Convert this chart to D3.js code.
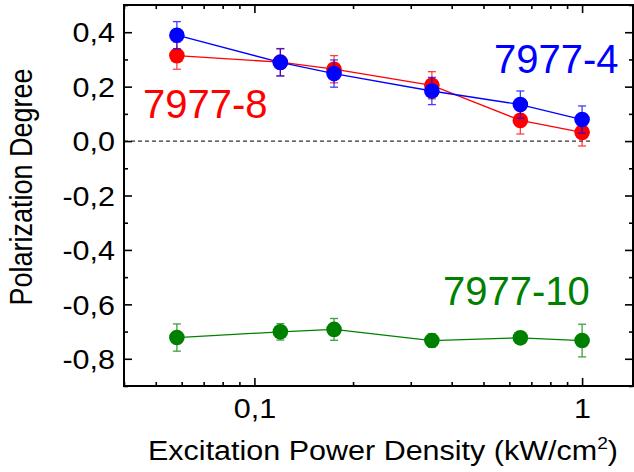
<!DOCTYPE html>
<html>
<head>
<meta charset="utf-8">
<script src="https://cdn.jsdelivr.net/npm/d3@7"></script>
<style>
  body { margin: 0; background: #fff; }
  #my_dataviz { width: 634px; height: 472px; }
  text { font-family: "Liberation Sans", Arial, sans-serif; }
</style>
</head>
<body>
<div id="my_dataviz"></div>
<script>
// Data
const power = [0.058, 0.12, 0.175, 0.348, 0.648, 1.0];
const deg4 = [0.389, 0.289, 0.248, 0.184, 0.134, 0.079];
const err4 = [0.05, 0.05, 0.05, 0.05, 0.05, 0.05];
const deg8 = [0.314, 0.29, 0.264, 0.205, 0.076, 0.032];
const err8 = [0.05, 0.05, 0.05, 0.05, 0.05, 0.05];
const deg10 = [-0.722, -0.701, -0.692, -0.733, -0.723, -0.733];
const err10 = [0.05, 0.03, 0.04, 0.025, 0.02, 0.06];
const yMajor = [-0.8, -0.6, -0.4, -0.2, 0.0, 0.2, 0.4];
const yMinor = [-0.9, -0.7, -0.5, -0.3, -0.1, 0.1, 0.3, 0.5];
const xMajor = [0.1, 1];
const xMinor = [0.04, 0.05, 0.06, 0.07, 0.08, 0.09, 0.2, 0.3, 0.4, 0.5, 0.6, 0.7, 0.8, 0.9];

const series = [
  { name: "7977-8", color: "#ff0000", values: deg8, errs: err8, lx: 143, ly: 118 },
  { name: "7977-4", color: "#0000ff", values: deg4, errs: err4, lx: 494, ly: 73 },
  { name: "7977-10", color: "#008000", values: deg10, errs: err10, lx: 443, ly: 305 }
];

const margin = { top: 5, right: 1, bottom: 86, left: 124 };
const width = 634 - margin.left - margin.right;
const height = 472 - margin.top - margin.bottom;
const sx = 1.13; // axis text looks a bit wider than Arial

const svg = d3.select("#my_dataviz")
  .append("svg")
    .attr("width", 634)
    .attr("height", 472)
  .append("g")
    .attr("transform", `translate(${margin.left},${margin.top})`);

const x = d3.scaleLog().domain([0.04, 1.43]).range([0, width]);
const y = d3.scaleLinear().domain([-0.9, 0.5]).range([height, 0]);

const fmt = d => d3.format(".1f")(d).replace(".", ",").replace("−", "-");

// zero reference line
svg.append("line")
  .attr("x1", x(0.04)).attr("x2", x(1.07))
  .attr("y1", y(0)).attr("y2", y(0))
  .attr("stroke", "#333").attr("stroke-width", 1.2)
  .attr("stroke-dasharray", "4,3");

// Axes: ticks point inward
function styleAxis(g) {
  g.select(".domain").remove();
  g.selectAll(".tick line").attr("stroke", "#000").attr("stroke-width", 1.6);
  g.selectAll(".tick text").attr("fill", "#000").style("font-size", "27px")
    .style("font-family", "'Liberation Sans', Arial, sans-serif");
}

svg.append("g")
  .call(d3.axisLeft(y).tickValues(yMajor).tickSize(-8).tickFormat(fmt))
  .call(styleAxis)
  .selectAll(".tick text")
    .attr("x", -9 / sx).attr("dy", "0.36em")
    .attr("transform", `scale(${sx},1)`);
svg.append("g")
  .call(d3.axisLeft(y).tickValues(yMinor).tickSize(-4).tickFormat(""))
  .call(styleAxis);
svg.append("g").attr("transform", `translate(${width},0)`)
  .call(d3.axisRight(y).tickValues(yMajor).tickSize(-8).tickFormat(""))
  .call(styleAxis);
svg.append("g").attr("transform", `translate(${width},0)`)
  .call(d3.axisRight(y).tickValues(yMinor).tickSize(-4).tickFormat(""))
  .call(styleAxis);

svg.append("g").attr("transform", `translate(0,${height})`)
  .call(d3.axisBottom(x).tickValues(xMajor).tickSize(-8).tickPadding(13)
    .tickFormat(d => d === 1 ? "1" : fmt(d)))
  .call(styleAxis)
  .selectAll(".tick text").attr("transform", `scale(${sx},1)`);
svg.append("g").attr("transform", `translate(0,${height})`)
  .call(d3.axisBottom(x).tickValues(xMinor).tickSize(-4).tickFormat(""))
  .call(styleAxis);
svg.append("g")
  .call(d3.axisTop(x).tickValues(xMajor).tickSize(-8).tickFormat(""))
  .call(styleAxis);
svg.append("g")
  .call(d3.axisTop(x).tickValues(xMinor).tickSize(-4).tickFormat(""))
  .call(styleAxis);

// frame
svg.append("rect")
  .attr("width", width).attr("height", height)
  .attr("fill", "none").attr("stroke", "#000").attr("stroke-width", 2);

// series
const line = d3.line().x(d => x(d.x)).y(d => y(d.y));

series.forEach(s => {
  const pts = power.map((p, i) => ({ x: p, y: s.values[i], e: s.errs[i] }));
  const g = svg.append("g");
  g.append("path").datum(pts)
    .attr("d", line).attr("fill", "none")
    .attr("stroke", s.color).attr("stroke-width", 1.3);
  const eb = g.selectAll(".err").data(pts).join("g").attr("stroke", s.color)
    .attr("stroke-width", 1.3).attr("opacity", 0.75);
  eb.append("line")
    .attr("x1", d => x(d.x)).attr("x2", d => x(d.x))
    .attr("y1", d => y(d.y + d.e)).attr("y2", d => y(d.y - d.e));
  [1, -1].forEach(sgn => {
    eb.append("line")
      .attr("x1", d => x(d.x) - 4).attr("x2", d => x(d.x) + 4)
      .attr("y1", d => y(d.y + sgn * d.e)).attr("y2", d => y(d.y + sgn * d.e));
  });
  g.selectAll("circle").data(pts).join("circle")
    .attr("cx", d => x(d.x)).attr("cy", d => y(d.y))
    .attr("r", 7.8).attr("fill", s.color);
  svg.append("text")
    .attr("x", s.lx - margin.left).attr("y", s.ly - margin.top)
    .attr("fill", s.color).style("font-size", "40px")
    .text(s.name);
});

// axis titles
const xt = svg.append("text")
  .attr("transform", `translate(${383 - margin.left},${460 - margin.top}) scale(${sx},1)`)
  .attr("text-anchor", "middle").style("font-size", "27px").attr("fill", "#000")
  .text("Excitation Power Density (kW/cm");
xt.append("tspan").attr("dy", -11).style("font-size", "17px").text("2");
xt.append("tspan").attr("dy", 11).text(")");

svg.append("text")
  .attr("transform", `translate(${32 - margin.left},${187 - margin.top}) scale(${sx},1) rotate(-90)`)
  .attr("text-anchor", "middle").style("font-size", "27px").attr("fill", "#000")
  .text("Polarization Degree");
</script>
</body>
</html>
